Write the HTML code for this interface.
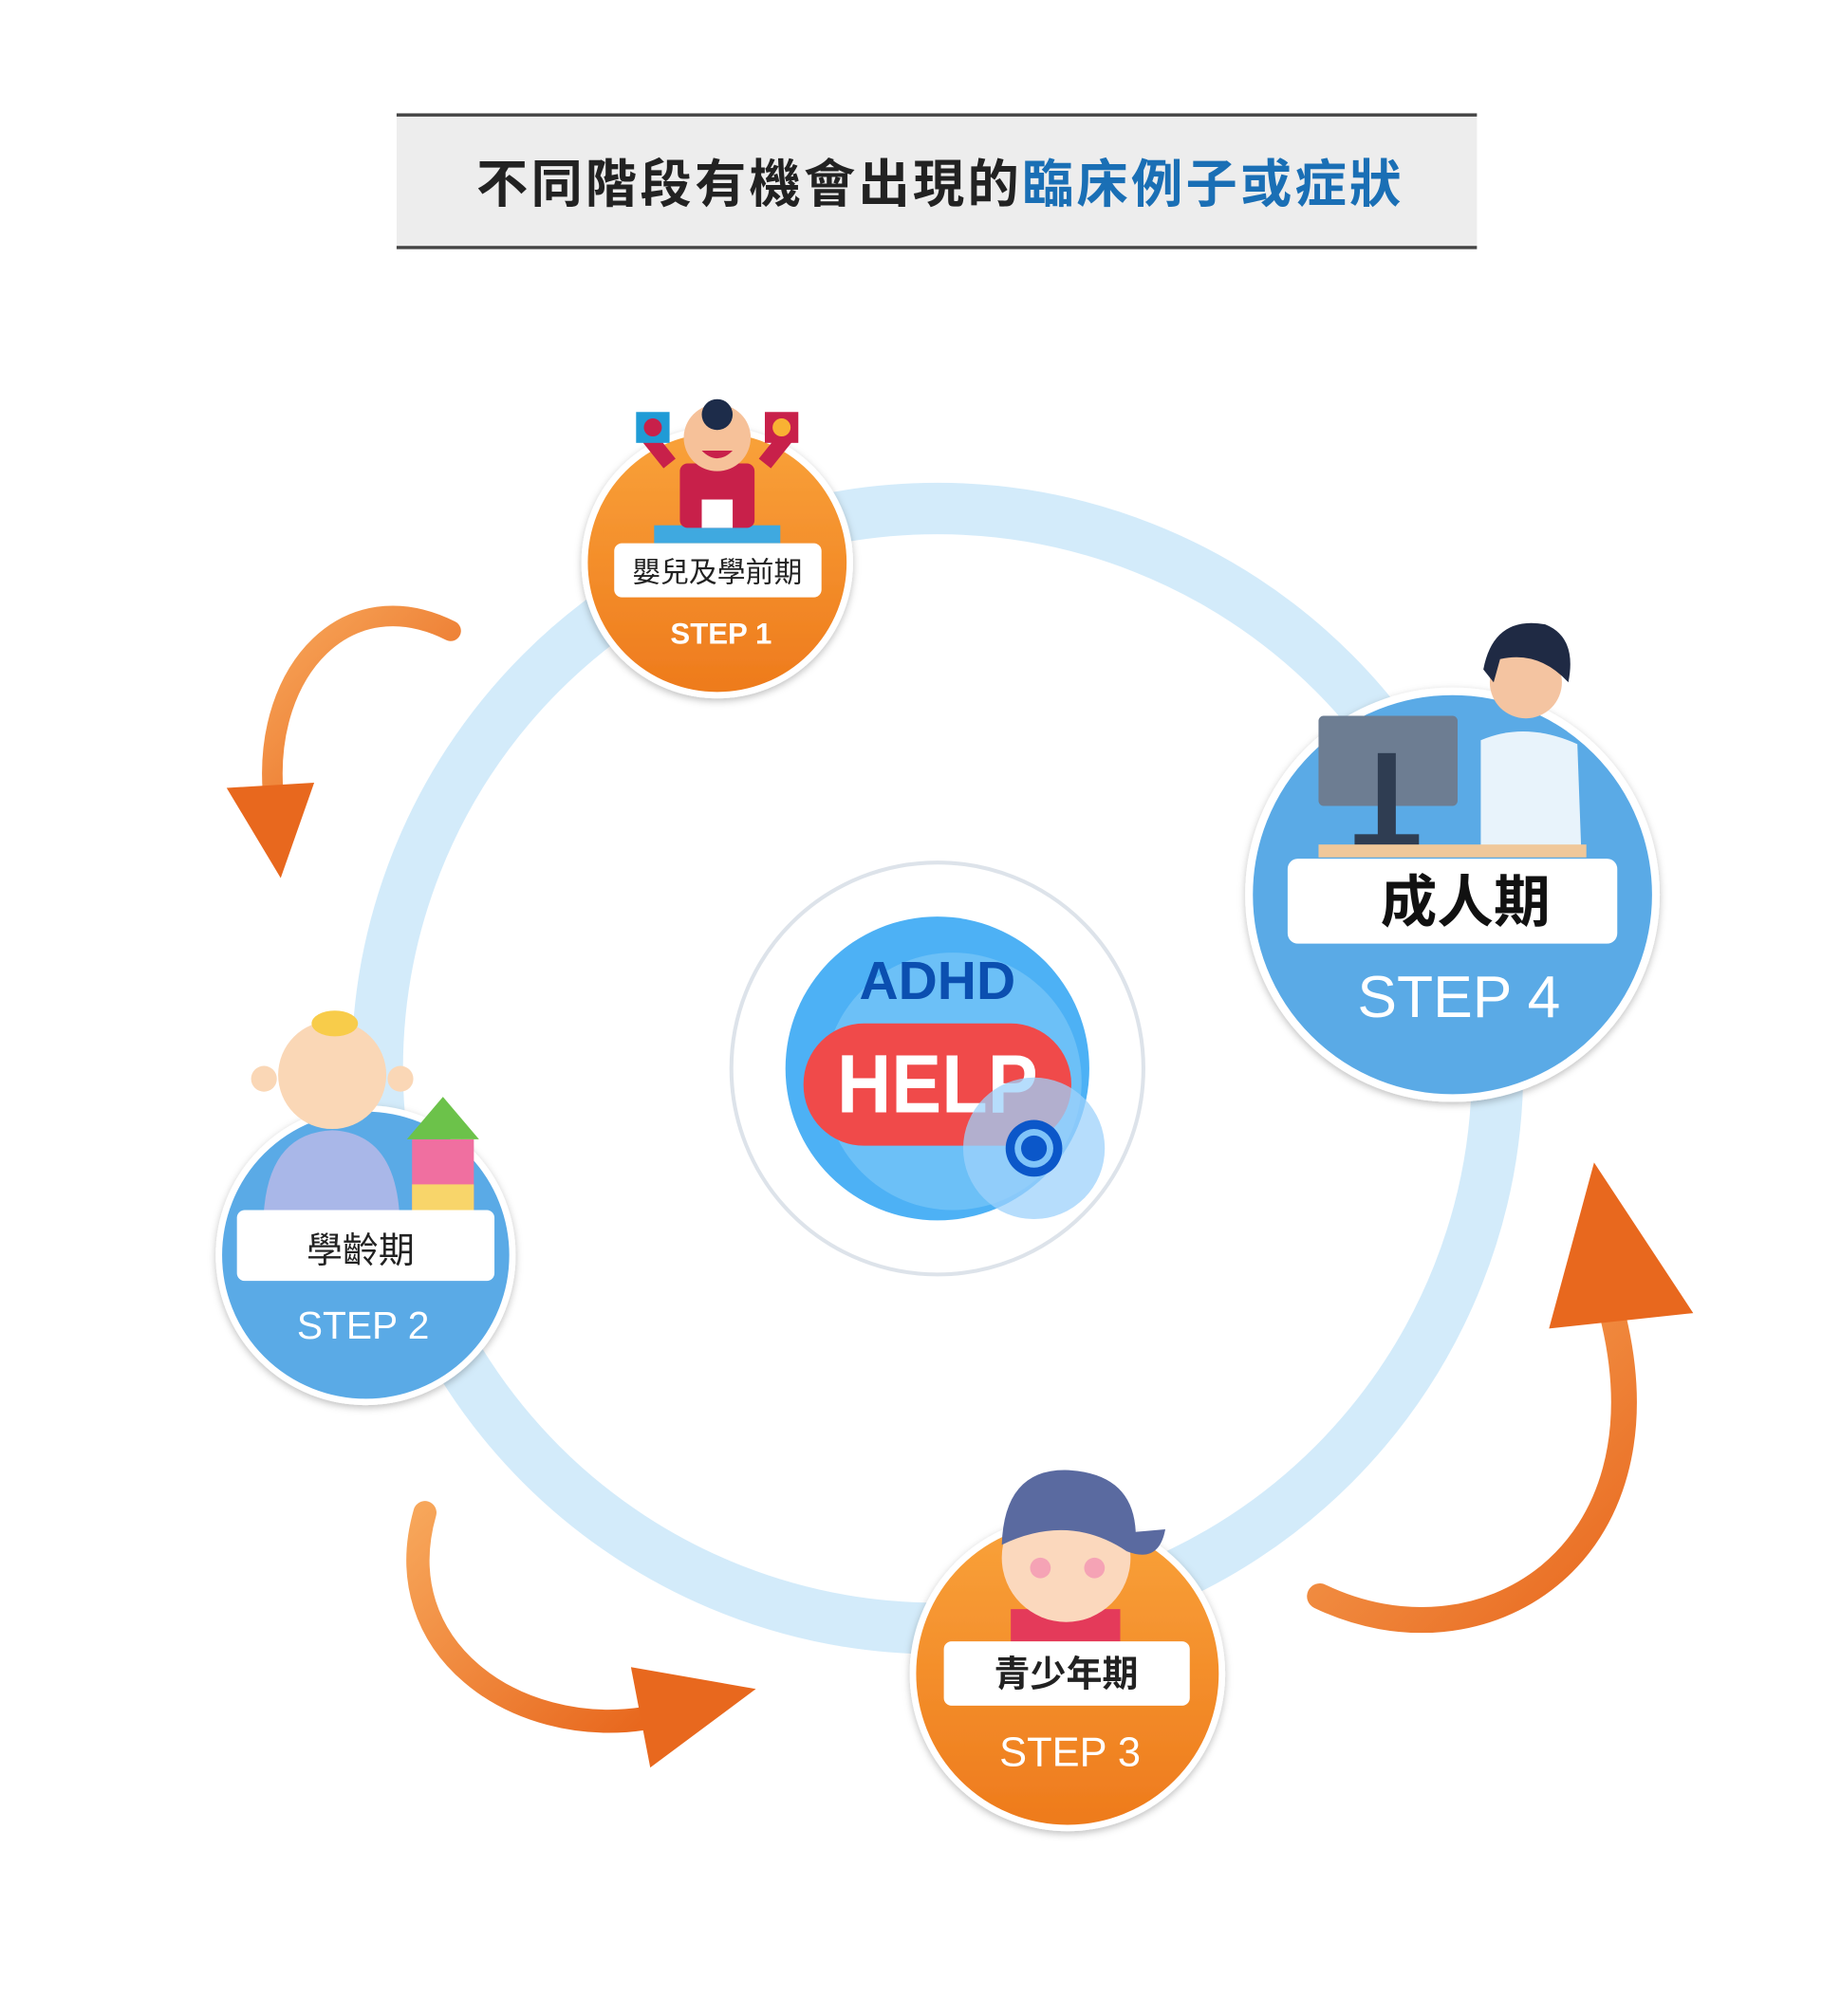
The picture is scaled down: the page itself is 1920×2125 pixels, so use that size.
<!DOCTYPE html>
<html><head><meta charset="utf-8"><style>
html,body{margin:0;padding:0;background:#fff}
svg{display:block}
text{font-family:"Liberation Sans","Noto Sans CJK TC",sans-serif}
</style></head><body>
<svg width="1920" height="2125" viewBox="0 0 1415 1566" xmlns="http://www.w3.org/2000/svg">
<defs>
<linearGradient id="og" x1="0" y1="0" x2="0" y2="1"><stop offset="0" stop-color="#f9a23a"/><stop offset="1" stop-color="#ee7a1c"/></linearGradient>
<linearGradient id="ar" x1="0" y1="0" x2="1" y2="1"><stop offset="0" stop-color="#f7a65a"/><stop offset="1" stop-color="#e8681e"/></linearGradient>
<filter id="sh" x="-20%" y="-20%" width="140%" height="140%"><feDropShadow dx="0" dy="2" stdDeviation="3" flood-color="#000" flood-opacity="0.25"/></filter>
</defs>
<!-- title -->
<rect x="308" y="88" width="839" height="105" fill="#ededed"/>
<rect x="308" y="88" width="839" height="2.5" fill="#444"/>
<rect x="308" y="191" width="839" height="2.5" fill="#444"/>
<text x="370" y="157" font-size="40" font-weight="bold" fill="#222" textLength="718" lengthAdjust="spacing">不同階段有機會出現的<tspan fill="#1a6fb5">臨床例子或症狀</tspan></text>
<!-- ring -->
<circle cx="728" cy="830" r="435" fill="none" stroke="#d3ebfa" stroke-width="40"/>
<!-- arrows -->
<path d="M350,490 C270,450 205,520 212,615" fill="none" stroke="url(#ar)" stroke-width="16" stroke-linecap="round"/>
<polygon points="176,612 244,608 218,682" fill="#e8681e"/>
<path d="M330,1175 C300,1280 400,1350 500,1335" fill="none" stroke="url(#ar)" stroke-width="18" stroke-linecap="round"/>
<polygon points="490,1295 587,1312 505,1373" fill="#e8681e"/>
<path d="M1025,1240 C1150,1300 1300,1210 1252,1020" fill="none" stroke="url(#ar)" stroke-width="20" stroke-linecap="round"/>
<polygon points="1203,1032 1238,903 1315,1020" fill="#e8681e"/>
<!-- center -->
<circle cx="728" cy="830" r="160" fill="#fff" stroke="#dde3ea" stroke-width="3"/>
<circle cx="728" cy="830" r="118" fill="#4db1f5"/>
<circle cx="740" cy="840" r="100" fill="#6cc0f7"/>
<text x="728" y="776" text-anchor="middle" font-size="42" font-weight="bold" fill="#0b4fb0">ADHD</text>
<rect x="624" y="795" width="208" height="95" rx="47" fill="#f04a4a"/>
<text x="650" y="864" font-size="64" font-weight="bold" fill="#fff" textLength="156" lengthAdjust="spacingAndGlyphs">HELP</text>
<circle cx="803" cy="892" r="55" fill="#9dd2fb" opacity="0.75"/>
<circle cx="803" cy="892" r="22" fill="#0b57c9"/>
<circle cx="803" cy="892" r="15" fill="#7fc4f9"/>
<circle cx="803" cy="892" r="10" fill="#0b57c9"/>
<!-- step1 -->
<circle cx="557" cy="437" r="103" fill="url(#og)" stroke="#fff" stroke-width="5" filter="url(#sh)"/>
<rect x="508" y="408" width="98" height="14" fill="#3fa9e0"/>
<path d="M520,360 L500,335 M594,360 L614,335" stroke="#c8204a" stroke-width="12"/>
<rect x="528" y="360" width="58" height="50" rx="6" fill="#c8204a"/>
<rect x="545" y="388" width="24" height="22" fill="#fff"/>
<circle cx="557" cy="340" r="26" fill="#f6c199"/>
<circle cx="557" cy="322" r="12" fill="#1d2c4a"/>
<path d="M545,350 Q557,362 569,350Z" fill="#c8204a"/>
<rect x="494" y="320" width="26" height="24" fill="#1f9bd6"/><circle cx="507" cy="332" r="7" fill="#c8204a"/>
<rect x="594" y="320" width="26" height="24" fill="#c8204a"/><circle cx="607" cy="332" r="7" fill="#f9b233"/>
<rect x="477" y="422" width="161" height="42" rx="6" fill="#fff"/>
<text x="557" y="452" text-anchor="middle" font-size="22" fill="#222">嬰兒及學前期</text>
<text x="560" y="500" text-anchor="middle" font-size="23" font-weight="bold" fill="#fff">STEP 1</text>
<!-- step4 -->
<circle cx="1128" cy="695" r="158" fill="#5aaae6" stroke="#fff" stroke-width="6" filter="url(#sh)"/>
<rect x="1024" y="556" width="108" height="70" rx="4" fill="#6d7d92"/>
<rect x="1070" y="585" width="14" height="70" fill="#2f3d52"/>
<rect x="1052" y="648" width="50" height="10" fill="#2f3d52"/>
<path d="M1150,660 L1150,575 Q1185,560 1225,578 L1228,660Z" fill="#e8f3fb"/>
<circle cx="1185" cy="530" r="28" fill="#f4c4a1"/>
<path d="M1152,520 Q1160,478 1200,485 Q1225,495 1218,530 Q1195,505 1165,512 L1160,530Z" fill="#1f2a44"/>
<rect x="1024" y="656" width="208" height="10" fill="#f0c89a"/>
<rect x="1000" y="667" width="256" height="66" rx="8" fill="#fff"/>
<text x="1138" y="716" text-anchor="middle" font-size="44" font-weight="bold" fill="#111">成人期</text>
<text x="1133" y="790" text-anchor="middle" font-size="46" fill="#fff">STEP 4</text>
<!-- step2 -->
<circle cx="284" cy="975" r="114" fill="#5aaae6" stroke="#fff" stroke-width="5" filter="url(#sh)"/>
<path d="M205,940 Q210,880 258,878 Q305,880 310,940Z" fill="#a9b7e8"/>
<circle cx="258" cy="835" r="42" fill="#fad7b6"/>
<circle cx="205" cy="838" r="10" fill="#fad7b6"/><circle cx="311" cy="838" r="10" fill="#fad7b6"/>
<ellipse cx="260" cy="795" rx="18" ry="10" fill="#f8cc4a"/>
<rect x="320" y="885" width="48" height="55" fill="#f06fa0"/>
<rect x="320" y="920" width="48" height="20" fill="#f8d56a"/>
<polygon points="316,885 344,852 372,885" fill="#6cc24a"/>
<rect x="184" y="940" width="200" height="55" rx="6" fill="#fff"/>
<text x="280" y="981" text-anchor="middle" font-size="28" fill="#222">學齡期</text>
<text x="282" y="1040" text-anchor="middle" font-size="30" fill="#fff">STEP 2</text>
<!-- step3 -->
<circle cx="829" cy="1300" r="120" fill="url(#og)" stroke="#fff" stroke-width="5" filter="url(#sh)"/>
<path d="M785,1275 L785,1250 L870,1250 L870,1275Z" fill="#e43a5a"/>
<circle cx="828" cy="1210" r="50" fill="#fbd8bd"/>
<path d="M778,1200 Q780,1140 830,1142 Q880,1145 882,1190 L905,1188 Q900,1215 875,1205 Q830,1175 778,1200Z" fill="#5a6aa0"/>
<circle cx="808" cy="1218" r="8" fill="#f5a3b5"/><circle cx="850" cy="1218" r="8" fill="#f5a3b5"/>
<rect x="733" y="1275" width="191" height="50" rx="6" fill="#fff"/>
<text x="828" y="1310" text-anchor="middle" font-size="28" font-weight="bold" fill="#222">青少年期</text>
<text x="831" y="1372" text-anchor="middle" font-size="32" fill="#fff">STEP 3</text>
</svg>
</body></html>
